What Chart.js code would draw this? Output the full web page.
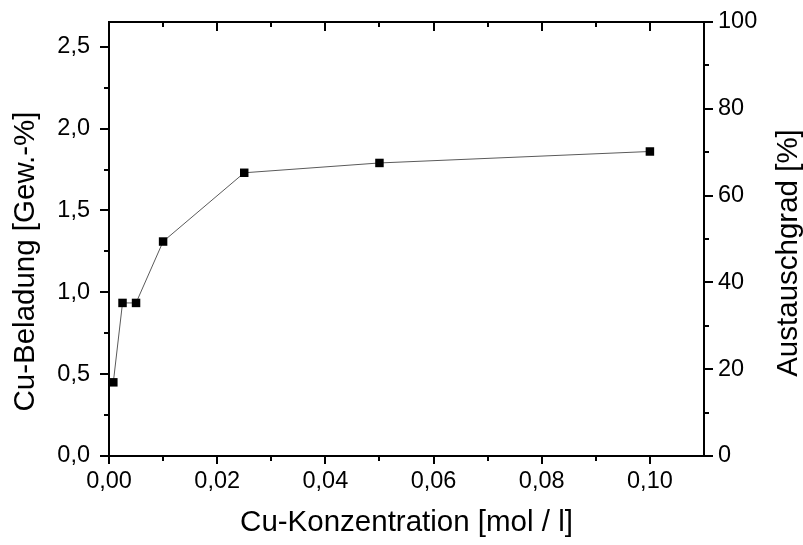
<!DOCTYPE html>
<html>
<head>
<meta charset="utf-8">
<script src="https://cdn.jsdelivr.net/npm/chart.js@4/dist/chart.umd.min.js"></script>
<style>
  html, body { margin: 0; padding: 0; background: #fff; }
  #wrap { width: 803px; height: 545px; }
</style>
</head>
<body>
<div id="wrap"><canvas id="c" width="803" height="545"></canvas></div>
<script>
// Cu concentration in solution [mol / l]
const concentration = [0.0008, 0.0025, 0.005, 0.01, 0.025, 0.05, 0.1];
// Cu loading of the exchanger [wt.-%]
const loading = [0.45, 0.935, 0.935, 1.31, 1.73, 1.79, 1.86];

// axis ticks
const xMajorTicks = [0, 0.02, 0.04, 0.06, 0.08, 0.10];
const xMinorTicks = [0.01, 0.03, 0.05, 0.07, 0.09, 0.11];
const yMajorTicks = [0, 0.5, 1.0, 1.5, 2.0, 2.5];
const yMinorTicks = [0.25, 0.75, 1.25, 1.75, 2.25];
const y2MajorTicks = [0, 20, 40, 60, 80, 100];
const y2MinorTicks = [10, 30, 50, 70, 90];

// axis ranges
const xRange = [0, 0.11];
const yRange = [0, 2.651];
const y2Range = [0, 100];

const xTitle = 'Cu-Konzentration [mol / l]';
const yTitle = 'Cu-Beladung [Gew.-%]';
const y2Title = 'Austauschgrad [%]';

const FONT = '"Liberation Sans", Arial, sans-serif';
const tickFont = { family: FONT, size: 23.5 };
const titleSize = 29.5;

const fixTicks = (arr) => (scale) => { scale.ticks = arr.map(v => ({ value: v })); };
const noEdgePadding = (scale) => {
  scale.paddingTop = 0; scale.paddingBottom = 0;
  scale.paddingLeft = 0; scale.paddingRight = 0;
};

// frame, tick marks and vertical axis titles
const framePlugin = {
  id: 'frame',
  afterDraw(chart) {
    const { ctx, chartArea: a, scales } = chart;
    const { x, y, y1 } = scales;
    ctx.save();
    ctx.strokeStyle = '#000';
    ctx.lineWidth = 2;
    ctx.strokeRect(a.left, a.top, a.right - a.left, a.bottom - a.top);

    const seg = (x0, y0, x1, y1_) => { ctx.beginPath(); ctx.moveTo(x0, y0); ctx.lineTo(x1, y1_); ctx.stroke(); };
    // bottom: outward, top: inward
    xMajorTicks.forEach(v => { const p = Math.round(x.getPixelForValue(v)); seg(p, a.bottom, p, a.bottom + 8); seg(p, a.top, p, a.top + 9); });
    xMinorTicks.forEach(v => { const p = Math.round(x.getPixelForValue(v)); if (p >= a.right - 1) return; seg(p, a.bottom, p, a.bottom + 5); seg(p, a.top, p, a.top + 5); });
    // left: outward
    yMajorTicks.forEach(v => { const p = Math.round(y.getPixelForValue(v)); seg(a.left - 9, p, a.left, p); });
    yMinorTicks.forEach(v => { const p = Math.round(y.getPixelForValue(v)); seg(a.left - 5, p, a.left, p); });
    // right: outward
    y2MajorTicks.forEach(v => { const p = Math.round(y1.getPixelForValue(v)); seg(a.right, p, a.right + 9, p); });
    y2MinorTicks.forEach(v => { const p = Math.round(y1.getPixelForValue(v)); seg(a.right, p, a.right + 5, p); });

    // vertical axis titles, both reading upwards
    ctx.fillStyle = '#000';
    ctx.font = `${titleSize}px ${FONT}`;
    ctx.textAlign = 'center';
    ctx.textBaseline = 'alphabetic';
    ctx.save();
    ctx.translate(34, 261.5);
    ctx.rotate(-Math.PI / 2);
    ctx.fillText(yTitle, 0, 0);
    ctx.restore();
    ctx.save();
    ctx.translate(797, 253);
    ctx.rotate(-Math.PI / 2);
    ctx.fillText(y2Title, 0, 0);
    ctx.restore();
    ctx.restore();
  }
};

new Chart(document.getElementById('c'), {
  type: 'scatter',
  data: {
    datasets: [{
      data: concentration.map((c, i) => ({ x: c, y: loading[i] })),
      showLine: true,
      borderColor: '#5a5a5a',
      borderWidth: 1,
      pointStyle: 'rect',
      pointRadius: 6,
      pointHoverRadius: 6,
      pointBackgroundColor: '#000',
      pointBorderColor: '#000',
      pointBorderWidth: 0,
      yAxisID: 'y'
    }]
  },
  options: {
    responsive: false,
    animation: false,
    devicePixelRatio: 1,
    layout: { padding: { top: 22, left: 0, right: 0, bottom: 0 } },
    plugins: { legend: { display: false }, tooltip: { enabled: false } },
    scales: {
      x: {
        type: 'linear',
        position: 'bottom',
        min: xRange[0], max: xRange[1],
        afterBuildTicks: fixTicks(xMajorTicks),
        afterFit: (s) => { s.height = 89; noEdgePadding(s); },
        grid: { display: false, drawTicks: false },
        border: { display: false },
        ticks: {
          font: tickFont, color: '#000', padding: 11.8, maxRotation: 0, autoSkip: false,
          callback: (v) => v.toFixed(2).replace('.', ',')
        },
        title: {
          display: true, text: xTitle, color: '#000',
          font: { family: FONT, size: titleSize },
          padding: { top: 0, bottom: 4.5 }
        }
      },
      y: {
        type: 'linear',
        position: 'left',
        min: yRange[0], max: yRange[1],
        afterBuildTicks: fixTicks(yMajorTicks),
        afterFit: (s) => { s.width = 109; noEdgePadding(s); },
        grid: { display: false, drawTicks: false },
        border: { display: false },
        ticks: {
          font: tickFont, color: '#000', padding: 19, autoSkip: false,
          callback: (v) => v.toFixed(1).replace('.', ',')
        }
      },
      y1: {
        type: 'linear',
        position: 'right',
        min: y2Range[0], max: y2Range[1],
        afterBuildTicks: fixTicks(y2MajorTicks),
        afterFit: (s) => { s.width = 99; noEdgePadding(s); },
        grid: { display: false, drawTicks: false },
        border: { display: false },
        ticks: {
          font: tickFont, color: '#000', padding: 14, autoSkip: false,
          callback: (v) => String(v)
        }
      }
    }
  },
  plugins: [framePlugin]
});
</script>
</body>
</html>
